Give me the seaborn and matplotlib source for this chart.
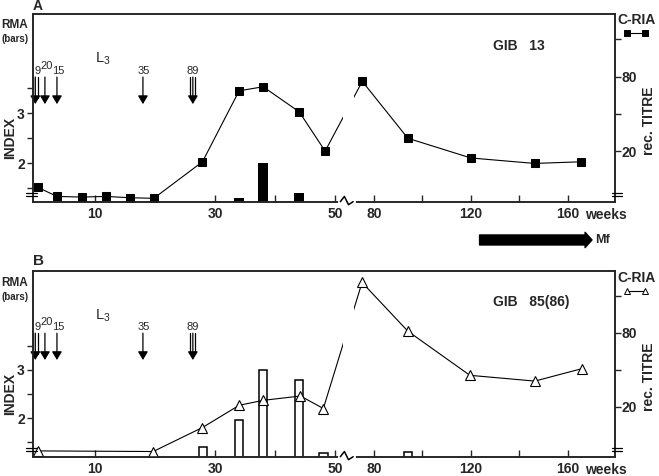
import numpy as np
import matplotlib
matplotlib.use("Agg")
import matplotlib.pyplot as plt
from matplotlib.lines import Line2D
import seaborn as sns

# panel A: GIB 13 (C-RIA filled squares, RMA black bars)
weeks_a = [0.5, 3.7, 7.8, 11.8, 15.8, 19.8, 27.9, 34, 38, 44, 48.3, 75.2, 94, 120, 146.3, 165.6]
titre_a = [10.2, 8.6, 8.5, 8.6, 8.4, 8.3, 16.4, 61.5, 66.3, 41.5, 20, 73.3, 25.4, 17.6, 15.9, 16.4]
bar_weeks_a = [34, 38, 44]
rma_a = [1.3, 2.0, 1.4]

# panel B: GIB 85(86) (C-RIA open triangles, RMA open bars)
weeks_b = [0.55, 19.7, 27.9, 34, 38, 44.2, 48, 75.1, 94, 119.6, 146.4, 165.8]
titre_b = [8.7, 8.6, 13.5, 20.5, 22.5, 24.4, 19.3, 206, 82.5, 36, 32.3, 40.8]
bar_weeks_b = [28, 34, 38, 44, 48, 94]
rma_b = [1.41, 1.96, 3.0, 2.79, 1.28, 1.29]

# L3 inoculations (arrows)
inoc_weeks = [0.1, 1.7, 3.7, 18, 26.3]
inoc_larvae = ["9", "20", "15", "35", "89"]
inoc_shafts = [3, 1, 1, 1, 3]
inoc_label_x = [0.4, 2.0, 3.9, 18.1, 26.3]
inoc_label_y = [0.695, 0.725, 0.695, 0.695, 0.695]

x_major = [10, 30, 50, 80, 120, 160]
x_minor = [20, 40, 100, 140]

# broken time axis: 0-51 weeks wide, gap, 72-180 weeks compressed
KW = [-50, 51.2, 71.6, 300]
KU = [-50, 51.2, 53.03, 53.03 + (300 - 71.6) * 0.403]


def fwd(w):
    return np.interp(w, KW, KU)


def inv(u):
    return np.interp(u, KU, KW)


sns.set_style("ticks")
plt.rcParams["font.family"] = ["Liberation Sans", "DejaVu Sans"]
plt.rcParams["font.weight"] = "bold"
plt.rcParams["mathtext.default"] = "regular"

fig = plt.figure(figsize=(6.59, 4.76), dpi=100)


def draw_panel(rect, weeks, titre, bar_weeks, rma, bar_w, filled, ylim, gib):
    ax = fig.add_axes(rect)
    ax2 = ax.twinx()

    heights = [v - 1 for v in rma]
    if filled:
        ax.bar(bar_weeks, heights, bottom=1, width=bar_w, color="black", linewidth=0)
    else:
        ax.bar(bar_weeks, heights, bottom=1, width=bar_w, facecolor="white",
               edgecolor="black", linewidth=1.1)

    if filled:
        sns.lineplot(x=weeks, y=titre, ax=ax2, color="black", linewidth=0.8,
                     marker="s", markersize=5.5, markeredgecolor="black")
    else:
        sns.lineplot(x=weeks, y=titre, ax=ax2, color="black", linewidth=0.8,
                     marker="^", markersize=7, markerfacecolor="white",
                     markeredgecolor="black", markeredgewidth=0.8)

    ax.set_xscale("function", functions=(fwd, inv))
    ax.set_xlim(-0.28, 179.5)
    ax.set_ylim(*ylim)
    ax2.set_yscale("log", base=2)
    ax2.set_ylim(7.8, 257)

    ax.set_xticks(x_major)
    ax.set_xticklabels([str(v) for v in x_major])
    ax.set_xticks(x_minor, minor=True)
    ax.tick_params(axis="x", which="both", direction="in", length=5, width=1, pad=4, labelsize=10)
    ax.set_yticks([1.5, 2, 2.5, 3, 3.5])
    ax.set_yticklabels(["", "2", "", "3", ""])
    ax.tick_params(axis="y", direction="out", length=4, width=1, pad=2, labelsize=10)
    ax2.set_yticks([20, 40, 80, 160])
    ax2.set_yticklabels(["20", "", "80", ""])
    ax2.yaxis.set_minor_locator(matplotlib.ticker.NullLocator())
    ax2.tick_params(axis="y", direction="out", length=4, width=1, pad=1, labelsize=10)
    for a in (ax, ax2):
        for s in a.spines.values():
            s.set_linewidth(1.2)

    ax.set_xlabel("")
    ax.set_ylabel("INDEX", fontsize=10, fontweight="bold")
    ax.yaxis.set_label_coords(-0.028, 0.34)
    ax2.set_ylabel("rec. TITRE", fontsize=10, fontweight="bold")
    ax2.yaxis.set_label_coords(1.047, 0.43)

    # axis break: hide the curve and draw the zigzag
    ax2.axvspan(51.2, 71.6, ymin=0.02, ymax=0.98, color="white", zorder=3, linewidth=0)
    ax2.plot([0.527, 0.551], [0, 0], transform=ax2.transAxes, color="white", lw=3,
             clip_on=False, zorder=5)
    ax2.plot([0.528, 0.535, 0.542, 0.550], [0, 0.028, -0.016, 0], transform=ax2.transAxes,
             color="black", lw=1.1, clip_on=False, zorder=6)
    for xs in ([-0.012, 0.006], [0.994, 1.012]):
        for yy in (0.03, 0.048):
            ax2.plot(xs, [yy, yy], transform=ax2.transAxes, color="black", lw=0.9,
                     clip_on=False, zorder=6)

    # "weeks" after the last tick label
    ax.text(167.1, -0.033, "weeks", transform=ax.get_xaxis_transform(), ha="left",
            va="top", fontsize=10)

    # L3 inoculation arrows
    bt = ax.get_xaxis_transform()
    for w, n, lab, lx, ly in zip(inoc_weeks, inoc_shafts, inoc_larvae, inoc_label_x, inoc_label_y):
        ax.annotate("", xy=(w, 0.52), xytext=(w, 0.664), xycoords=bt, textcoords=bt,
                    arrowprops=dict(arrowstyle="-|>,head_length=0.5,head_width=0.3",
                                    mutation_scale=10, color="black", lw=0.9,
                                    shrinkA=0, shrinkB=0))
        if n > 1:
            for o in (-0.4, 0.4):
                ax.plot([w + o, w + o], [0.664, 0.55], transform=bt, color="black", lw=0.9)
        ax.text(lx, ly, lab, transform=bt, ha="center", va="center", fontsize=8,
                fontweight="normal")
    ax.text(11.3, 0.76, "L$_3$", transform=bt, ha="center", va="center", fontsize=10.5,
            fontweight="normal")

    ax.text(129.3, 0.83, gib, transform=bt, ha="left", va="center", fontsize=10)
    return ax, ax2


ax_a, ax2_a = draw_panel([0.0501, 0.5763, 0.8832, 0.3943], weeks_a, titre_a,
                         bar_weeks_a, rma_a, 1.6, True, (1.236, 4.97), "GIB   13")
ax_b, ax2_b = draw_panel([0.0501, 0.0405, 0.8832, 0.3908], weeks_b, titre_b,
                         bar_weeks_b, rma_b, [1.4, 1.4, 1.4, 1.4, 1.4, 3.2], False,
                         (1.2, 5.06), "GIB   85(86)")

# Mf arrow below panel A
ax_a.annotate("", xy=(170, -0.204), xytext=(123.6, -0.204), xycoords=("data", "axes fraction"),
              arrowprops=dict(arrowstyle="simple,head_length=0.5,head_width=1.1,tail_width=0.72",
                              mutation_scale=10, color="black", shrinkA=0, shrinkB=0),
              annotation_clip=False)
ax_a.text(171.3, -0.204, "Mf", transform=ax_a.get_xaxis_transform(), ha="left", va="center",
          fontsize=9)

# panel letters and side labels
fig.text(33 / 659, 1 - 10 / 476, "A", fontsize=10, va="baseline")
fig.text(33 / 659, 1 - 265 / 476, "B", fontsize=11, va="baseline")
for ytop, marker, mfc in ((0, "s", "black"), (258, "^", "white")):
    fig.text(1 / 659, 1 - (ytop + 25) / 476, "RMA", fontsize=8.5, ha="left", va="center")
    fig.text(1 / 659, 1 - (ytop + 39) / 476, "(bars)", fontsize=7, ha="left", va="center")
    fig.text(617 / 659, 1 - (ytop + 20) / 476, "C-RIA", fontsize=10, ha="left", va="center")
    fig.add_artist(Line2D([627 / 659, 645 / 659], [1 - (ytop + 33) / 476] * 2,
                          transform=fig.transFigure, color="black", lw=0.8, marker=marker,
                          markersize=4 if marker == "s" else 5, markerfacecolor=mfc,
                          markeredgecolor="black", markeredgewidth=0.7))

fig.savefig("out.png", dpi=100)
